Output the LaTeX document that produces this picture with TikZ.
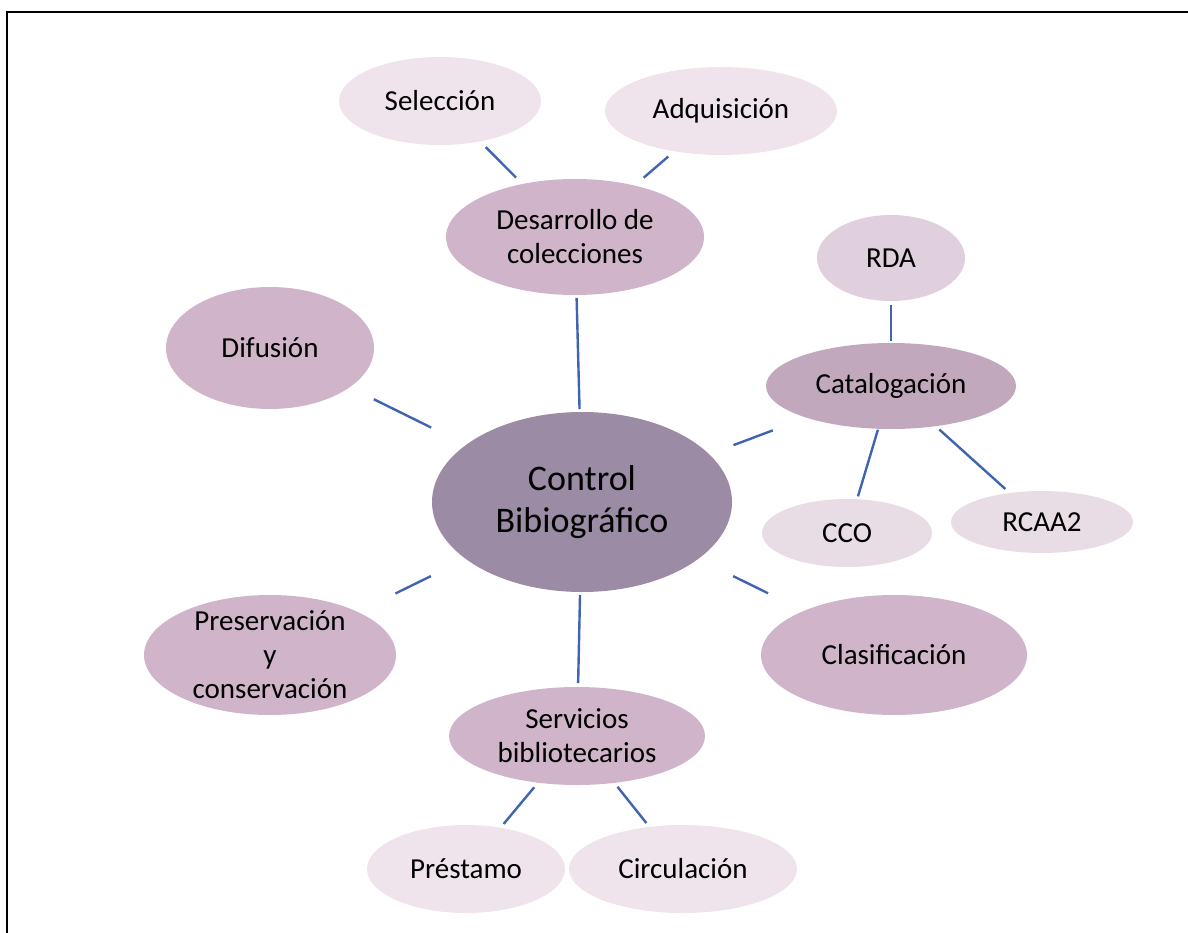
\documentclass[tikz,border=0pt]{standalone}
\usepackage{fontspec}
\setmainfont{Carlito}
\usepackage{xcolor}
\usepackage{tikz}
\usetikzlibrary{shapes.geometric}

\definecolor{hubfill}{RGB}{155,139,165}
\definecolor{topicfill}{RGB}{207,180,202}
\definecolor{catfill}{RGB}{194,168,189}
\definecolor{subfill}{RGB}{224,207,220}
\definecolor{leaffill}{RGB}{232,221,229}
\definecolor{palefill}{RGB}{239,228,236}
\definecolor{linkblue}{RGB}{64,100,176}

\begin{document}
\begin{tikzpicture}[x=1pt, y=-1pt,
    bubble/.style={ellipse, inner sep=0pt, outer sep=0pt, align=center,
                   font=\fontsize{29}{34}\selectfont},
    hub/.style={bubble, fill=hubfill, font=\fontsize{36}{42}\selectfont},
    topic/.style={bubble, fill=topicfill},
    pale/.style={bubble, fill=palefill},
    leaf/.style={bubble, fill=leaffill},
    link/.style={draw=linkblue, line width=2.4pt}
]
    \useasboundingbox (0,0) rectangle (1188,933);

    % Frame
    \draw[line width=2pt] (1188,12) -- (6.5,12) -- (6.5,933);

    % Centre
    \node[hub, minimum width=300pt, minimum height=180pt] (ctl) at (582,502) {Control\\Bibiográfico};

    % First ring
    \node[topic, minimum width=258pt, minimum height=116pt] (des) at (575,237) {Desarrollo de\\colecciones};
    \node[topic, minimum width=208pt, minimum height=122pt] (dif) at (270,348) {Difusión};
    \node[bubble, fill=catfill, minimum width=250pt, minimum height=86pt] (cat) at (891,386) {Catalogación};
    \node[topic, minimum width=266pt, minimum height=120pt] (cla) at (894,655) {Clasificación};
    \node[topic, minimum width=252pt, minimum height=120pt, inner ysep=-16pt] (pre) at (270,655) {Preservación\\y\\conservación};
    \node[topic, minimum width=256pt, minimum height=98pt] (ser) at (577,736) {Servicios\\bibliotecarios};

    % Second ring
    \node[pale, minimum width=202pt, minimum height=88pt] (sel) at (440,101) {Selección};
    \node[pale, minimum width=232pt, minimum height=88pt] (adq) at (721,111) {Adquisición};
    \node[bubble, fill=subfill, minimum width=148pt, minimum height=86pt] (rda) at (891,258) {RDA};
    \node[leaf, minimum width=170pt, minimum height=68pt] (cco) at (847,533) {CCO};
    \node[leaf, minimum width=182pt, minimum height=62pt] (rca) at (1042,522) {RCAA2};
    \node[pale, minimum width=198pt, minimum height=88pt] (prs) at (466,869) {Préstamo};
    \node[pale, minimum width=228pt, minimum height=88pt] (cir) at (683,869) {Circulación};

    % Links: centre to first ring
    \draw[link, shorten <=3pt, shorten >=3pt] (des) -- (ctl);
    \draw[link, shorten <=27pt, shorten >=39pt] (dif) -- (ctl);
    \draw[link, shorten <=26pt, shorten >=36pt] (ctl) -- (cat);
    \draw[link, shorten <=39pt, shorten >=40pt] (ctl) -- (cla);
    \draw[link, shorten <=39pt, shorten >=42pt] (ctl) -- (pre);
    \draw[link, shorten <=3pt, shorten >=4pt] (ctl) -- (ser);

    % Links: first ring to second ring
    \draw[link, shorten <=8pt, shorten >=9pt] (sel) -- (des);
    \draw[link, shorten <=8pt, shorten >=12pt] (adq) -- (des);
    \draw[link, shorten <=4pt, shorten >=2pt] (rda) -- (cat);
    \draw[link, shorten <=1pt, shorten >=3pt] (cat) -- (cco);
    \draw[link, shorten <=5pt, shorten >=6pt] (cat) -- (rca);
    \draw[link, shorten <=6pt, shorten >=5pt] (ser) -- (prs);
    \draw[link, shorten <=5pt, shorten >=5pt] (ser) -- (cir);
\end{tikzpicture}
\end{document}
